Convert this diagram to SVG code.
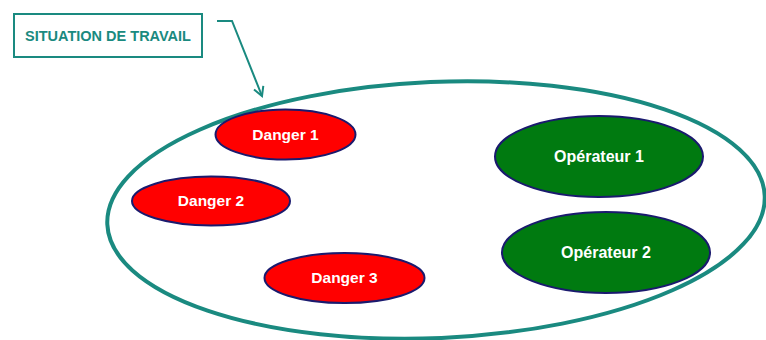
<svg xmlns="http://www.w3.org/2000/svg" width="766" height="340" viewBox="0 0 766 340">
<style>
.lbl{font-family:"Liberation Sans",Arial,sans-serif;font-weight:bold;fill:#fff;font-size:15.5px;text-anchor:middle;dominant-baseline:central}
.big{font-size:16px}
.danger{fill:#ff0000;stroke:#1a1a6e;stroke-width:2}
.op{fill:#007a10;stroke:#1a1a6e;stroke-width:2}
</style>
<defs>
<marker id="arr" markerWidth="12" markerHeight="12" refX="10" refY="6" orient="auto" markerUnits="userSpaceOnUse">
<path d="M1,1 L10,6 L1,11" fill="none" stroke="#1a8a80" stroke-width="2"/>
</marker>
</defs>
<rect width="766" height="340" fill="#fff"/>
<g id="situation">
<ellipse cx="436" cy="210" rx="329" ry="128" transform="rotate(-2.5 436 210)" fill="#fff" stroke="#1a8a80" stroke-width="4"/>
</g>
<g id="label">
<rect x="14" y="14" width="188" height="43" fill="#fff" stroke="#1a8a80" stroke-width="2"/>
<text x="108" y="35.5" font-family="'Liberation Sans',Arial,sans-serif" font-weight="bold" font-size="14.5" fill="#1a8a80" text-anchor="middle" dominant-baseline="central">SITUATION DE TRAVAIL</text>
</g>
<g id="connectors">
<polyline points="217,21 232,21 262,96" fill="none" stroke="#1a8a80" stroke-width="2" marker-end="url(#arr)"/>
</g>
<g id="danger1"><ellipse class="danger" cx="285.5" cy="134.5" rx="70" ry="25"/><text class="lbl" x="285.5" y="134">Danger 1</text></g>
<g id="danger2"><ellipse class="danger" cx="211" cy="201" rx="79" ry="24.5"/><text class="lbl" x="211" y="200.5">Danger 2</text></g>
<g id="danger3"><ellipse class="danger" cx="344.5" cy="278" rx="80" ry="25"/><text class="lbl" x="344.5" y="277.5">Danger 3</text></g>
<g id="operateur1"><ellipse class="op" cx="599" cy="156.5" rx="104" ry="40.5"/><text class="lbl big" x="599" y="156">Opérateur 1</text></g>
<g id="operateur2"><ellipse class="op" cx="606" cy="252.5" rx="104" ry="40.5"/><text class="lbl big" x="606" y="252">Opérateur 2</text></g>
</svg>
